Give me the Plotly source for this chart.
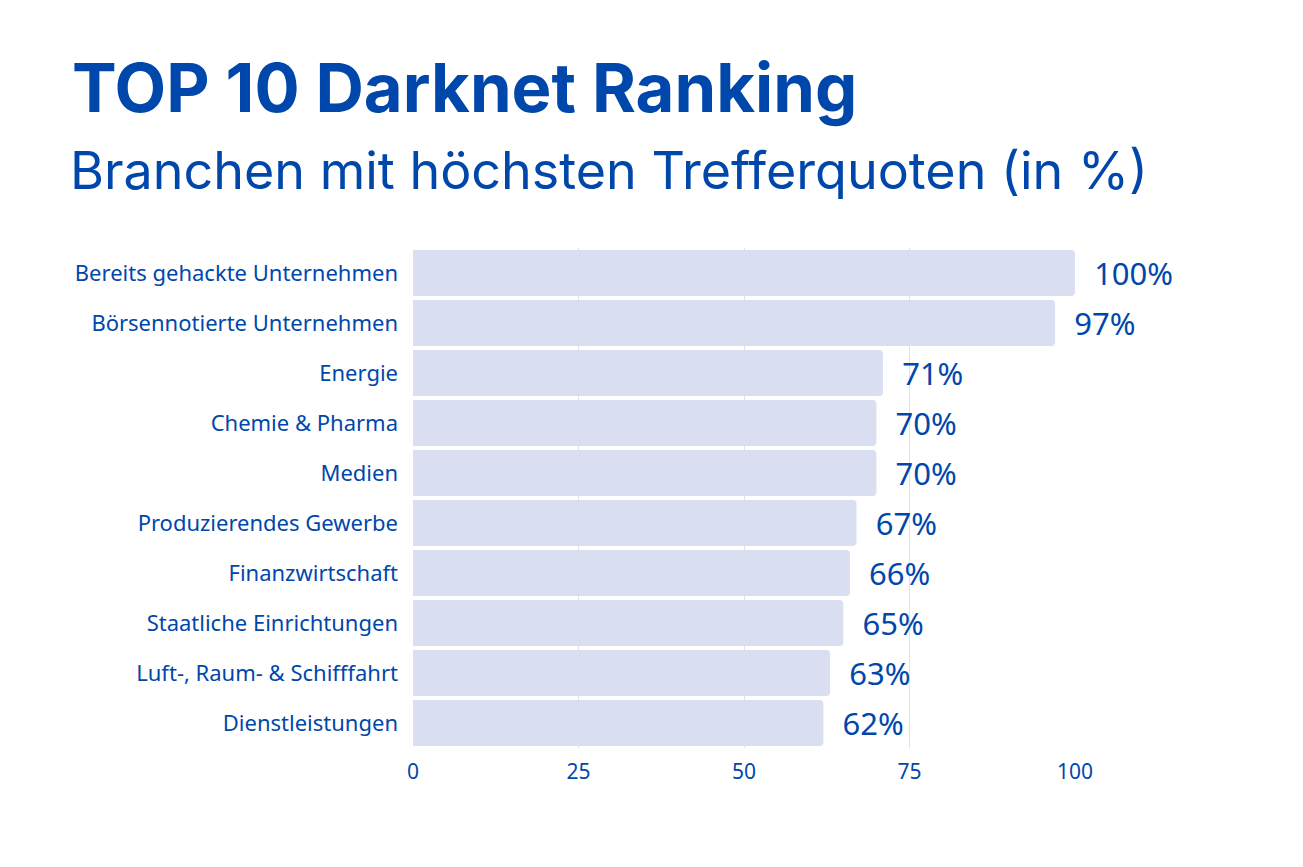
import plotly.graph_objects as go

categories = [
    "Bereits gehackte Unternehmen",
    "Börsennotierte Unternehmen",
    "Energie",
    "Chemie & Pharma",
    "Medien",
    "Produzierendes Gewerbe",
    "Finanzwirtschaft",
    "Staatliche Einrichtungen",
    "Luft-, Raum- & Schifffahrt",
    "Dienstleistungen",
]
values = [100, 97, 71, 70, 70, 67, 66, 65, 63, 62]
value_labels = [f"\u00a0\u00a0{v}%" for v in values]
x_ticks = [0, 25, 50, 75, 100]

BLUE = "#0047AB"
BAR = "#D9DFF0"
GRID = "#DCE3F3"

# page body has an 8px offset
L, R, T, B = 405, 236, 240, 127
PW = 1303 - L - R
PH = 867 - T - B

fig = go.Figure(
    go.Bar(
        y=categories,
        x=values,
        orientation="h",
        marker=dict(color=BAR, line=dict(width=0)),
        text=value_labels,
        textposition="outside",
        textfont=dict(family="Noto Sans", size=31, color=BLUE),
        cliponaxis=False,
    )
)

fig.update_layout(
    width=1303,
    height=867,
    paper_bgcolor="white",
    plot_bgcolor="white",
    margin=dict(l=L, r=R, t=T, b=B),
    bargap=0.08,
    barcornerradius=4,
    showlegend=False,
    font=dict(family="Noto Sans", color=BLUE),
    xaxis=dict(
        range=[0, 100],
        tickvals=x_ticks,
        ticktext=[str(t) for t in x_ticks],
        showgrid=True,
        gridcolor=GRID,
        gridwidth=1,
        zeroline=False,
        showline=False,
        tickfont=dict(family="Noto Sans", size=21, color=BLUE),
        ticks="",
        ticklabelstandoff=9,
        automargin=False,
    ),
    yaxis=dict(
        autorange="reversed",
        showgrid=False,
        zeroline=False,
        showline=False,
        tickfont=dict(family="Noto Sans", size=22, color=BLUE),
        ticks="",
        ticklabelstandoff=14,
        automargin=False,
    ),
    annotations=[
        dict(
            text="<b>TOP 10 Darknet Ranking</b>",
            xref="paper", yref="paper",
            x=(62 - L) / PW, y=(T + PH - 80) / PH,
            xanchor="left", yanchor="middle",
            showarrow=False,
            font=dict(family="Inter", size=67, color=BLUE),
        ),
        dict(
            text="Branchen mit höchsten Trefferquoten (in %)",
            xref="paper", yref="paper",
            x=(60 - L) / PW, y=(T + PH - 162) / PH,
            xanchor="left", yanchor="middle",
            showarrow=False,
            font=dict(family="Inter", size=52, color=BLUE),
        ),
    ],
)

fig.write_html("out.html")
